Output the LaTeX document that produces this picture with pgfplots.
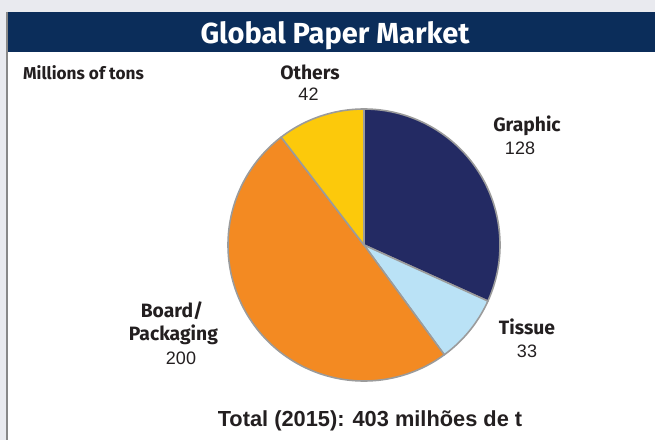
\documentclass[border=0pt]{standalone}
\usepackage{pgfplots}
\pgfplotsset{compat=1.18}
\usepackage{fontspec}
\setmainfont{Liberation Sans}
\newfontfamily\labfont{Fira Sans}
\newfontfamily\arialf{Liberation Sans}
\definecolor{bgc}{HTML}{E9EAEF}
\definecolor{navy}{HTML}{0B2D5A}
\definecolor{cGraphic}{HTML}{232A63}
\definecolor{cTissue}{HTML}{BAE2F6}
\definecolor{cBoard}{HTML}{F38A22}
\definecolor{cOthers}{HTML}{FCC90B}
\definecolor{edgec}{HTML}{9B9B9B}
\definecolor{borderc}{HTML}{888888}
\definecolor{txt}{HTML}{231F20}
% data (millions of tons)
\def\vGraphic{128}
\def\vTissue{33}
\def\vBoard{200}
\def\vOthers{42}
\pgfmathsetmacro\vTotal{\vGraphic+\vTissue+\vBoard+\vOthers}
\pgfmathsetmacro\aA{90}
\pgfmathsetmacro\aB{\aA-\vGraphic/\vTotal*360}
\pgfmathsetmacro\aC{\aB-\vTissue/\vTotal*360}
\pgfmathsetmacro\aD{\aC-\vBoard/\vTotal*360}
\pgfmathsetmacro\aE{\aD-\vOthers/\vTotal*360}
\def\cx{364}
\def\cy{195}
\def\R{136}
\begin{document}
\begin{tikzpicture}
\begin{axis}[
  x=1pt, y=1pt,
  xmin=0, xmax=655, ymin=0, ymax=440,
  hide axis, clip=false,
]
% background and panel
\fill[bgc] (axis cs:0,0) rectangle (axis cs:655,440);
\fill[white] (axis cs:7,0) rectangle (axis cs:655,428);
\fill[navy] (axis cs:7,388) rectangle (axis cs:655,428);
\fill[borderc] (axis cs:5.5,0) rectangle (axis cs:7.5,428);
% pie wedges
\addplot[fill=cGraphic, draw=edgec, line width=1.6pt, line join=round, domain=\aB:\aA, samples=80, variable=\t]
  ({\cx+\R*cos(\t)},{\cy+\R*sin(\t)}) -- (axis cs:\cx,\cy) -- cycle;
\addplot[fill=cTissue, draw=edgec, line width=1.6pt, line join=round, domain=\aC:\aB, samples=40, variable=\t]
  ({\cx+\R*cos(\t)},{\cy+\R*sin(\t)}) -- (axis cs:\cx,\cy) -- cycle;
\addplot[fill=cBoard, draw=edgec, line width=1.6pt, line join=round, domain=\aD:\aC, samples=120, variable=\t]
  ({\cx+\R*cos(\t)},{\cy+\R*sin(\t)}) -- (axis cs:\cx,\cy) -- cycle;
\addplot[fill=cOthers, draw=edgec, line width=1.6pt, line join=round, domain=\aE:\aD, samples=40, variable=\t]
  ({\cx+\R*cos(\t)},{\cy+\R*sin(\t)}) -- (axis cs:\cx,\cy) -- cycle;
% title
\node[anchor=base, text=white, inner sep=0pt, font=\labfont\bfseries\fontsize{29}{34}\selectfont] at (axis cs:335,396.7) {Global Paper Market};
\node[anchor=base west, text=txt, inner sep=0pt, font=\labfont\bfseries\fontsize{17.2}{20}\selectfont] at (axis cs:23,360) {Millions of tons};
% labels
\tikzset{lab/.style={anchor=base, text=txt, inner sep=0pt, font=\labfont\bfseries\fontsize{19.3}{22}\selectfont},
         num/.style={anchor=base, text=txt, inner sep=0pt, font=\arialf\fontsize{18}{22}\selectfont}}
\node[lab] at (axis cs:310,360.5) {Others};
\node[num] at (axis cs:308.5,340) {\vOthers};
\node[lab] at (axis cs:527,309) {Graphic};
\node[num] at (axis cs:520,286) {\vGraphic};
\node[lab] at (axis cs:527,106) {Tissue};
\node[num] at (axis cs:527,83) {\vTissue};
\node[lab] at (axis cs:172,123) {Board/};
\node[lab] at (axis cs:173.4,100) {Packaging};
\node[num] at (axis cs:181,76) {\vBoard};
\node[anchor=base, text=txt, inner sep=0pt, font=\arialf\bfseries\fontsize{21.8}{24}\selectfont] at (axis cs:370,13.3) {Total (2015): 403 milhões de t};
\end{axis}
\end{tikzpicture}
\end{document}
